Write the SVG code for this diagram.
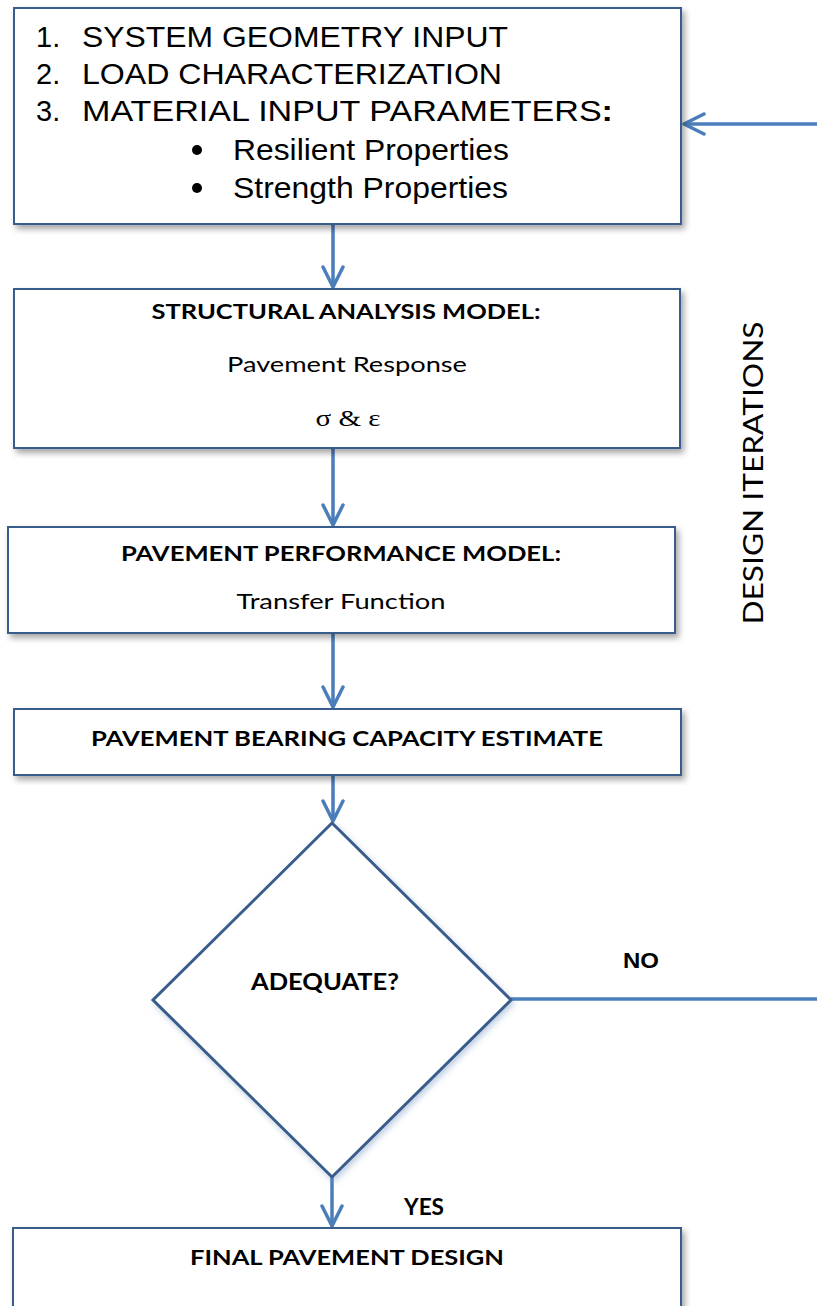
<svg xmlns="http://www.w3.org/2000/svg" width="817" height="1306" viewBox="0 0 817 1306">
  <style>
    .box { fill: #ffffff; stroke: #385D8A; stroke-width: 2; }
    .conn { fill: none; stroke: #4A7EBB; stroke-width: 3.5; }
    .arial { font-family: "Liberation Sans", Arial, sans-serif; fill: #000; }
    .cal { font-family: Lato, "Open Sans", sans-serif; fill: #000; }
    .bold { font-weight: bold; }
    .mid { text-anchor: middle; }
  </style>
  <defs>
    <filter id="shadow" x="-5%" y="-5%" width="115%" height="120%">
      <feDropShadow dx="3" dy="4" stdDeviation="3" flood-color="#000" flood-opacity="0.35"/>
    </filter>
    <filter id="glow" x="-10%" y="-10%" width="125%" height="125%">
      <feDropShadow dx="2" dy="3" stdDeviation="3" flood-color="#6F8FC0" flood-opacity="0.45"/>
    </filter>
    <marker id="arrow" viewBox="0 0 24 24" refX="22" refY="12" markerWidth="24" markerHeight="24" markerUnits="userSpaceOnUse" orient="auto">
      <path d="M2,2 L22,12 L2,22" fill="none" stroke="#4A7EBB" stroke-width="3.5" stroke-linecap="round" stroke-linejoin="round"/>
    </marker>
  </defs>

  <!-- flow connectors -->
  <g id="connectors">
    <line class="conn" x1="333" y1="225" x2="333" y2="287" marker-end="url(#arrow)"/>
    <line class="conn" x1="333" y1="449" x2="333" y2="525" marker-end="url(#arrow)"/>
    <line class="conn" x1="333" y1="634" x2="333" y2="707" marker-end="url(#arrow)"/>
    <line class="conn" x1="333" y1="776" x2="333" y2="821" marker-end="url(#arrow)"/>
    <line class="conn" x1="332" y1="1177" x2="332" y2="1226" marker-end="url(#arrow)"/>
    <line class="conn" x1="511" y1="999" x2="817" y2="999"/>
    <line class="conn" x1="817" y1="124" x2="684" y2="124" marker-end="url(#arrow)"/>
  </g>

  <!-- inputs -->
  <g id="inputs">
    <rect class="box" x="14" y="8" width="667" height="216" filter="url(#shadow)"/>
    <g class="arial" font-size="29">
      <text x="36" y="47">1.</text>
      <text x="82" y="47" textLength="426" lengthAdjust="spacingAndGlyphs">SYSTEM GEOMETRY INPUT</text>
      <text x="36" y="84">2.</text>
      <text x="82" y="84" textLength="420" lengthAdjust="spacingAndGlyphs">LOAD CHARACTERIZATION</text>
      <text x="36" y="121">3.</text>
      <text x="82" y="121" textLength="531" lengthAdjust="spacingAndGlyphs">MATERIAL INPUT PARAMETERS<tspan font-weight="bold">:</tspan></text>
      <circle cx="197" cy="150" r="5" fill="#000"/>
      <text x="233" y="160" textLength="276" lengthAdjust="spacingAndGlyphs">Resilient Properties</text>
      <circle cx="197" cy="188" r="5" fill="#000"/>
      <text x="233" y="198" textLength="275" lengthAdjust="spacingAndGlyphs">Strength Properties</text>
    </g>
  </g>

  <!-- structural analysis -->
  <g id="structural-analysis">
    <rect class="box" x="14" y="289" width="666" height="159" filter="url(#shadow)"/>
    <text class="cal bold mid" x="346" y="319" font-size="21" textLength="389" lengthAdjust="spacingAndGlyphs">STRUCTURAL ANALYSIS MODEL:</text>
    <text class="cal mid" x="347" y="372" font-size="22" textLength="240" lengthAdjust="spacingAndGlyphs">Pavement Response</text>
    <text x="348" y="426" font-family="'Liberation Serif', 'Times New Roman', serif" font-size="24" text-anchor="middle" textLength="65" lengthAdjust="spacingAndGlyphs">σ &amp; ε</text>
  </g>

  <!-- performance model -->
  <g id="performance-model">
    <rect class="box" x="8" y="527" width="667" height="106" filter="url(#shadow)"/>
    <text class="cal bold mid" x="341" y="561" font-size="21" textLength="440" lengthAdjust="spacingAndGlyphs">PAVEMENT PERFORMANCE MODEL:</text>
    <text class="cal mid" x="341" y="609" font-size="22" textLength="209" lengthAdjust="spacingAndGlyphs">Transfer Function</text>
  </g>

  <!-- bearing capacity -->
  <g id="bearing-capacity">
    <rect class="box" x="14" y="709" width="667" height="66" filter="url(#shadow)"/>
    <text class="cal bold mid" x="347" y="746" font-size="21" textLength="512" lengthAdjust="spacingAndGlyphs">PAVEMENT BEARING CAPACITY ESTIMATE</text>
  </g>

  <!-- decision -->
  <g id="decision">
    <polygon points="332,823 511,1000 332,1177 153,1000" fill="#fff" stroke="#385D8A" stroke-width="3" filter="url(#glow)"/>
    <text class="cal bold mid" x="325" y="990" font-size="22" textLength="148" lengthAdjust="spacingAndGlyphs">ADEQUATE?</text>
  </g>

  <g id="label-no">
    <text class="arial bold mid" x="641" y="968" font-size="22" textLength="36" lengthAdjust="spacingAndGlyphs">NO</text>
  </g>
  <g id="label-yes">
    <text class="cal bold mid" x="424" y="1215" font-size="23" textLength="40" lengthAdjust="spacingAndGlyphs">YES</text>
  </g>
  <g id="label-iterations">
    <text class="cal mid" transform="translate(763,473) rotate(-90)" font-size="26" textLength="303" lengthAdjust="spacingAndGlyphs">DESIGN ITERATIONS</text>
  </g>

  <!-- final design -->
  <g id="final-design">
    <rect class="box" x="13" y="1228" width="668" height="100" filter="url(#shadow)"/>
    <text class="cal bold mid" x="347" y="1265" font-size="21" textLength="314" lengthAdjust="spacingAndGlyphs">FINAL PAVEMENT DESIGN</text>
  </g>
</svg>
